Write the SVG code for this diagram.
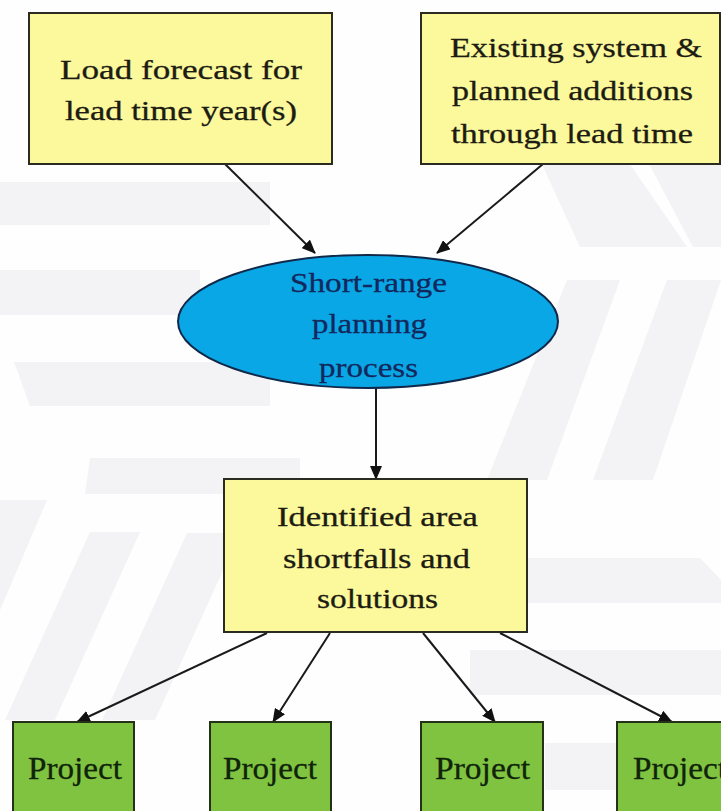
<svg xmlns="http://www.w3.org/2000/svg" width="721" height="811" viewBox="0 0 721 811">
  <style>
    .box { fill: #fcf89c; stroke: #2b2b22; stroke-width: 2; }
    .proj { fill: #80c341; stroke: #243018; stroke-width: 2; }
    .oval { fill: #0aa7e6; stroke: #10284a; stroke-width: 2; }
    .t { font-family: "Liberation Serif", "Times New Roman", serif; font-size: 27px; fill: #1c1c12; stroke: #1c1c12; stroke-width: 0.3; }
    .to { font-family: "Liberation Serif", "Times New Roman", serif; font-size: 28px; fill: #13285c; stroke: #13285c; stroke-width: 0.3; }
    .tp { font-family: "Liberation Serif", "Times New Roman", serif; font-size: 31px; fill: #10240a; stroke: #10240a; stroke-width: 0.3; }
    .edge { stroke: #1a1a1a; stroke-width: 2; fill: none; marker-end: url(#arrow); }
    .wm { fill: #f3f3f6; }
  </style>
  <defs>
    <marker id="arrow" markerUnits="userSpaceOnUse" markerWidth="14" markerHeight="12" refX="13" refY="6" orient="auto">
      <path d="M0,0 L14,6 L0,12 z" fill="#111"/>
    </marker>
  </defs>

  <rect width="721" height="811" fill="#fefefe"/>

  <!-- faint background watermark bands -->
  <g id="watermark">
    <rect class="wm" x="0" y="182" width="270" height="43"/>
    <rect class="wm" x="0" y="270" width="200" height="45"/>
    <polygon class="wm" points="14,362 270,362 270,406 30,406"/>
    <polygon class="wm" points="90,458 300,458 300,494 85,494"/>
    <polygon class="wm" points="540,160 627,160 687,247 580,247"/>
    <polygon class="wm" points="647,160 721,160 721,247 693,247"/>
    <polygon class="wm" points="567,280 620,280 547,480 487,480"/>
    <polygon class="wm" points="667,280 721,280 653,480 593,480"/>
    <polygon class="wm" points="527,558 700,558 721,580 721,603 527,603"/>
    <rect class="wm" x="470" y="650" width="251" height="45"/>
    <rect class="wm" x="545" y="743" width="176" height="47"/>
    <polygon class="wm" points="90,532 140,532 55,720 5,720"/>
    <polygon class="wm" points="187,533 240,533 155,720 102,720"/>
    <polygon class="wm" points="0,500 47,500 0,610"/>
  </g>

  <!-- connectors -->
  <g id="connectors">
    <line class="edge" x1="225" y1="164" x2="315" y2="253"/>
    <line class="edge" x1="543" y1="164" x2="437" y2="253"/>
    <line class="edge" x1="376" y1="388" x2="376" y2="479"/>
    <line class="edge" x1="267" y1="633" x2="77" y2="722"/>
    <line class="edge" x1="330" y1="633" x2="273" y2="722"/>
    <line class="edge" x1="423" y1="633" x2="495" y2="722"/>
    <line class="edge" x1="500" y1="633" x2="672" y2="722"/>
  </g>

  <g id="load-forecast">
    <rect class="box" x="29" y="13" width="303" height="151"/>
    <text class="t" x="60" y="79" textLength="242" lengthAdjust="spacingAndGlyphs">Load forecast for</text>
    <text class="t" x="65" y="120" textLength="232" lengthAdjust="spacingAndGlyphs">lead time year(s)</text>
  </g>

  <g id="existing-system">
    <rect class="box" x="421" y="13" width="299" height="151"/>
    <text class="t" x="450" y="57" textLength="252" lengthAdjust="spacingAndGlyphs">Existing system &amp;</text>
    <text class="t" x="452" y="100" textLength="241" lengthAdjust="spacingAndGlyphs">planned additions</text>
    <text class="t" x="451" y="143" textLength="242" lengthAdjust="spacingAndGlyphs">through lead time</text>
  </g>

  <g id="short-range-planning">
    <ellipse class="oval" cx="368" cy="321.5" rx="190" ry="66.5"/>
    <text class="to" x="290" y="292" textLength="157" lengthAdjust="spacingAndGlyphs">Short-range</text>
    <text class="to" x="312" y="333" textLength="115" lengthAdjust="spacingAndGlyphs">planning</text>
    <text class="to" x="319" y="377" textLength="99" lengthAdjust="spacingAndGlyphs">process</text>
  </g>

  <g id="shortfalls">
    <rect class="box" x="224" y="479" width="303" height="153"/>
    <text class="t" x="277" y="526" textLength="201" lengthAdjust="spacingAndGlyphs">Identified area</text>
    <text class="t" x="283" y="568" textLength="187" lengthAdjust="spacingAndGlyphs">shortfalls and</text>
    <text class="t" x="317" y="608" textLength="121" lengthAdjust="spacingAndGlyphs">solutions</text>
  </g>

  <g id="project-1">
    <rect class="proj" x="13" y="722" width="121" height="100"/>
    <text class="tp" x="28" y="779" textLength="94" lengthAdjust="spacingAndGlyphs">Project</text>
  </g>
  <g id="project-2">
    <rect class="proj" x="210" y="722" width="121" height="100"/>
    <text class="tp" x="223" y="779" textLength="94" lengthAdjust="spacingAndGlyphs">Project</text>
  </g>
  <g id="project-3">
    <rect class="proj" x="421" y="722" width="122" height="100"/>
    <text class="tp" x="435" y="779" textLength="95" lengthAdjust="spacingAndGlyphs">Project</text>
  </g>
  <g id="project-4">
    <rect class="proj" x="617" y="722" width="122" height="100"/>
    <text class="tp" x="633" y="779" textLength="94" lengthAdjust="spacingAndGlyphs">Project</text>
  </g>
</svg>
